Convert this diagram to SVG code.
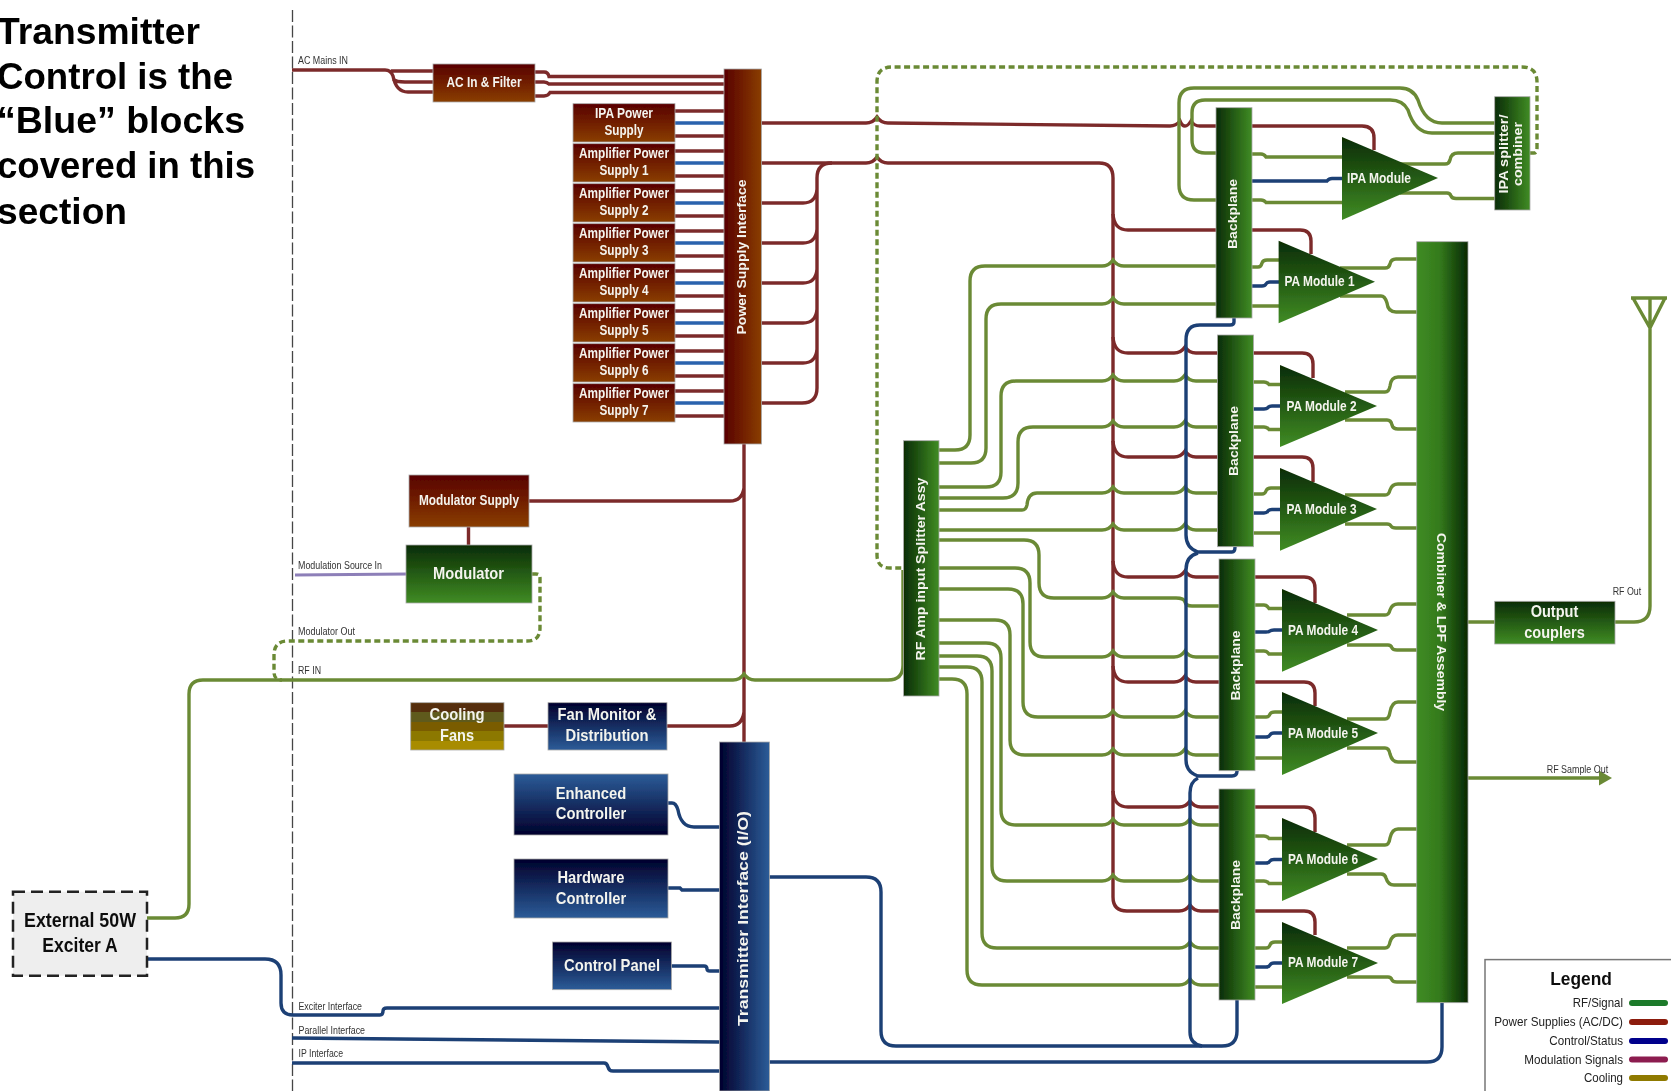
<svg xmlns="http://www.w3.org/2000/svg" width="1671" height="1091" viewBox="0 0 1671 1091">
<style>
text{font-family:"Liberation Sans",Arial,sans-serif;text-anchor:middle;dominant-baseline:central}
.n{fill:#f4f4ee;font-weight:bold;font-size:14px;dominant-baseline:middle;translate:0 1px}
.t{fill:#000;font-weight:bold;font-size:36px;text-anchor:start;dominant-baseline:auto}
.l{fill:#333;font-size:10px;text-anchor:start}
.lg{fill:#222;font-size:13px;text-anchor:end;dominant-baseline:middle;translate:0 1px}
.x{fill:#111;font-weight:bold;font-size:20px}
.w{fill:none;stroke-width:3.400}
.g{stroke:#6b8a35}.r{stroke:#7c2b2b}.b{stroke:#1c3f75}.bb{stroke:#2a62ad}
.d{stroke-dasharray:6 3.500}
.o{stroke:#aaa;stroke-width:.8}
.s{fill:none;stroke-width:6;stroke-linecap:round}
</style>
<defs>
<filter id="soft" filterUnits="userSpaceOnUse" x="0" y="0" width="1671" height="1091"><feGaussianBlur stdDeviation="0.5"/></filter>
<linearGradient id="rv" x1="0" y1="0" x2="0" y2="1"><stop offset="0" stop-color="#580000"/><stop offset="1" stop-color="#8a3e00"/></linearGradient>
<linearGradient id="rh" x1="0" y1="0" x2="1" y2="0"><stop offset="0" stop-color="#580000"/><stop offset="1" stop-color="#8a3e00"/></linearGradient>
<linearGradient id="gv" x1="0" y1="0" x2="0" y2="1"><stop offset="0" stop-color="#0a2c05"/><stop offset="1" stop-color="#408c24"/></linearGradient>
<linearGradient id="gh" x1="0" y1="0" x2="1" y2="0"><stop offset="0" stop-color="#0a2c05"/><stop offset="1" stop-color="#408c24"/></linearGradient>
<linearGradient id="gr" x1="0" y1="0" x2="1" y2="0"><stop offset="0" stop-color="#408c24"/><stop offset=".45" stop-color="#347a1c"/><stop offset="1" stop-color="#062803"/></linearGradient>
<linearGradient id="bv" x1="0" y1="0" x2="0" y2="1"><stop offset="0" stop-color="#00002c"/><stop offset="1" stop-color="#2c5c98"/></linearGradient>
<linearGradient id="bu" x1="0" y1="0" x2="0" y2="1"><stop offset="0" stop-color="#2c5c98"/><stop offset="1" stop-color="#00002c"/></linearGradient>
<linearGradient id="bh" x1="0" y1="0" x2="1" y2="0"><stop offset="0" stop-color="#00002c"/><stop offset="1" stop-color="#2c5c98"/></linearGradient>
<linearGradient id="c" x1="0" y1="0" x2="0" y2="1"><stop offset="0" stop-color="#552f08"/><stop offset=".2" stop-color="#552f08"/><stop offset=".2" stop-color="#5f5a1e"/><stop offset=".4" stop-color="#5f5a1e"/><stop offset=".4" stop-color="#7a5c02"/><stop offset=".6" stop-color="#7a5c02"/><stop offset=".6" stop-color="#8c7800"/><stop offset=".8" stop-color="#8c7800"/><stop offset=".8" stop-color="#a88c00"/><stop offset="1" stop-color="#a88c00"/></linearGradient>
<marker id="ar" markerUnits="userSpaceOnUse" markerWidth="14" markerHeight="16" refX="0" refY="7.500" orient="auto"><path d="M0 0L13 7.500L0 15z" fill="#6b8a35"/></marker>
</defs>
<rect width="1671" height="1091" fill="#fff"/>
<g id="drawing" filter="url(#soft)">
<path d="M292.500 10V1091" fill="none" stroke="#444" stroke-width="1.300" stroke-dasharray="12 3.500"/>
<g id="title">
<text class="t" x="-3" y="44" textLength="203" lengthAdjust="spacingAndGlyphs">Transmitter</text>
<text class="t" x="-3" y="89" textLength="236" lengthAdjust="spacingAndGlyphs">Control is the</text>
<text class="t" x="-3" y="133" textLength="248" lengthAdjust="spacingAndGlyphs">“Blue” blocks</text>
<text class="t" x="-3" y="178" textLength="258" lengthAdjust="spacingAndGlyphs">covered in this</text>
<text class="t" x="-3" y="224" textLength="130" lengthAdjust="spacingAndGlyphs">section</text>
</g>
<g id="connectors">
<path class="w r" d="M292 70H385Q391 70 393 76Q396 92 408 92H433M391 71H433M393 79Q396 82 405 82H433"/>
<path class="w r" d="M535 72H544Q548 72 549 76.500H724M535 82H544Q547 82 549 84H724M535 96H544Q548 96 550 92.500H724"/>
<path class="w r" d="M675 111H724M675 136H724M675 151H724M675 176H724M675 191H724M675 216H724M675 231H724M675 256H724M675 271H724M675 296H724M675 311H724M675 336H724M675 351H724M675 376H724M675 391H724M675 416H724"/>
<path class="w bb" d="M675 123H724M675 163H724M675 203H724M675 243H724M675 283H724M675 323H724M675 363H724M675 403H724"/>
<path class="w r" d="M744 444V743M468.500 527V545M529 501H730Q742 501 744 488M504 726H548M667 726H730Q742 726 744 712"/>
<path class="w r" d="M761 123H866q7 0 11-6q4 6 11 6L1170 126q6 0 10-5q2 5 5 5q3 0 6-5q3 5 9 5H1216M1252 126H1362Q1374 126 1374 138V150"/>
<path class="w r" d="M761 163H866q7 0 11-6q4 6 11 6H1099Q1113 163 1113 178V897Q1113 911 1127 911H1179q7 0 11-6q4 6 11 6H1219"/>
<path class="w r" d="M832 163Q817 163 817 178V388Q817 403 802 403H761M761 203H803Q816 203 817 189M761 243H803Q816 243 817 229M761 283H803Q816 283 817 269M761 323H803Q816 323 817 309M761 363H803Q816 363 817 349"/>
<path class="w r" d="M1113 214Q1114 230 1128 230H1216M1252 230H1300Q1311 230 1311 241V254"/>
<path class="w r" d="M1113 337Q1114 353 1128 353H1174q7 0 11-6q4 6 11 6H1218M1253 353H1302Q1313 353 1313 364V378"/>
<path class="w r" d="M1113 441Q1114 457 1128 457H1174q7 0 11-6q4 6 11 6H1218M1253 457H1302Q1313 457 1313 468V482"/>
<path class="w r" d="M1113 561Q1114 577 1128 577H1174q7 0 11-6q4 6 11 6H1220M1255 577H1304Q1315 577 1315 588V603"/>
<path class="w r" d="M1113 666Q1114 682 1128 682H1174q7 0 11-6q4 6 11 6H1220M1255 682H1304Q1315 682 1315 693V706"/>
<path class="w r" d="M1113 791Q1114 807 1128 807H1179q7 0 11-6q4 6 11 6H1220M1255 807H1304Q1315 807 1315 818V832"/>
<path class="w r" d="M1255 911H1304Q1315 911 1315 922V935"/>
<path class="w g" d="M147 918H175Q189 918 189 904V694Q189 680 203 680H733q7 0 11-6q4 6 11 6H888Q903 680 903 665V570"/>
<path class="w g d" d="M532 574H536Q540 574 540 578V628Q540 641 527 641H288Q274 641 274 655V672Q274 680 282 680"/>
<path class="w g d" d="M1530 153H1534Q1537 153 1537 148V82Q1537 67 1522 67H892Q877 67 877 82V555Q877 568 890 568H904"/>
<path class="w g" d="M939 450H955Q970 450 970 435V281Q970 266 985 266H1102q7 0 11-6q4 6 11 6H1216"/>
<path class="w g" d="M939 463H971Q986 463 986 448V319Q986 304 1001 304H1102q7 0 11-6q4 6 11 6H1216"/>
<path class="w g" d="M939 487H986Q1001 487 1001 472V396Q1001 381 1016 381H1102q7 0 11-6q4 6 11 6H1174q7 0 11-6q4 6 11 6H1218"/>
<path class="w g" d="M939 498H1003Q1018 498 1018 483V442Q1018 427 1033 427H1102q7 0 11-6q4 6 11 6H1174q7 0 11-6q4 6 11 6H1218"/>
<path class="w g" d="M939 510H1022Q1026 510 1027 505Q1028 493 1037 493H1102q7 0 11-6q4 6 11 6H1174q7 0 11-6q4 6 11 6H1219"/>
<path class="w g" d="M939 530H1102q7 0 11-6q4 6 11 6H1174q7 0 11-6q4 6 11 6H1219"/>
<path class="w g" d="M939 540H1024Q1039 540 1039 555V583Q1039 598 1054 598H1102q7 0 11-6q4 6 11 6H1176Q1184 598 1185 602Q1186 606 1192 606H1220"/>
<path class="w g" d="M939 568H1015Q1030 568 1030 583V642Q1030 657 1045 657H1102q7 0 11-6q4 6 11 6H1174q7 0 11-6q4 6 11 6H1220"/>
<path class="w g" d="M939 589H1008Q1023 589 1023 604V702Q1023 717 1038 717H1102q7 0 11-6q4 6 11 6H1174q7 0 11-6q4 6 11 6H1220"/>
<path class="w g" d="M939 620H995Q1010 620 1010 635V740Q1010 755 1025 755H1102q7 0 11-6q4 6 11 6H1174q7 0 11-6q4 6 11 6H1220"/>
<path class="w g" d="M939 643H986Q1001 643 1001 658V810Q1001 825 1016 825H1102q7 0 11-6q4 6 11 6H1179q7 0 11-6q4 6 11 6H1220"/>
<path class="w g" d="M939 656H977Q992 656 992 671V866Q992 881 1007 881H1102q7 0 11-6q4 6 11 6H1179q7 0 11-6q4 6 11 6H1220"/>
<path class="w g" d="M939 667H967Q982 667 982 682V933Q982 948 997 948H1179q7 0 11-6q4 6 11 6H1220"/>
<path class="w g" d="M939 679H952Q967 679 967 694V970Q967 985 982 985H1179q7 0 11-6q4 6 11 6H1220"/>
<path class="w g" d="M1216 200H1194Q1179 200 1179 185V103Q1179 88 1194 88H1400Q1413 88 1418 100Q1425 123 1442 123H1495"/>
<path class="w g" d="M1216 153H1205Q1192 153 1192 140V113Q1192 100 1205 100H1390Q1403 100 1408 110Q1415 133 1432 133H1495"/>
<path class="w g" d="M1252 154H1261Q1264 154 1266 157H1342M1252 200H1261Q1264 200 1266 202.500H1342"/>
<path class="w g" d="M1400 164H1445Q1449 164 1450 160Q1451 153 1458 153H1495M1400 193H1447Q1450 193 1451 196Q1452 198.500 1456 198.500H1495"/>
<path class="w g" d="M1252 267H1258Q1261 267 1262 263Q1263 260 1267 260H1279M1252 306H1279"/>
<path class="w g" d="M1340 268H1385Q1389 268 1390 264Q1391 259 1396 259H1417M1340 296H1381Q1385 296 1387 303Q1388 312 1396 312H1417"/>
<path class="w g" d="M1253 382H1264Q1267 382 1269 384.500H1280M1253 427H1264Q1267 427 1269 429.500H1280"/>
<path class="w g" d="M1345 392H1385Q1389 392 1390 386Q1391 377 1398 377H1417M1345 420H1387Q1391 420 1392 425Q1393 429 1398 429H1417"/>
<path class="w g" d="M1253 494H1262Q1265 494 1266 491Q1267 488 1271 488H1280M1253 533H1280"/>
<path class="w g" d="M1345 495H1385Q1389 495 1390 490Q1392 484 1398 484H1417M1345 524H1387Q1390 524 1391 526Q1392 528 1396 528H1417"/>
<path class="w g" d="M1255 605H1264Q1267 605 1269 608.500H1282M1255 651H1264Q1267 651 1269 654H1282"/>
<path class="w g" d="M1347 615H1385Q1389 615 1390 610Q1392 604 1398 604H1417M1347 645H1388Q1391 645 1392 648Q1393 650 1397 650H1417"/>
<path class="w g" d="M1255 717H1266Q1269 717 1270 714Q1271 712 1275 712H1282M1255 758H1282"/>
<path class="w g" d="M1347 719H1385Q1389 719 1390 712Q1392 702 1398 702H1417M1347 748H1385Q1389 748 1390 754Q1392 762 1398 762H1417"/>
<path class="w g" d="M1255 836H1264Q1267 836 1269 838.500H1282M1255 881H1264Q1267 881 1269 883.500H1282"/>
<path class="w g" d="M1347 845H1385Q1389 845 1390 838Q1392 829 1398 829H1417M1347 874H1381Q1385 874 1386 878Q1388 885 1394 885H1417"/>
<path class="w g" d="M1255 948H1266Q1269 948 1270 945Q1271 942 1275 942H1282M1255 987H1282"/>
<path class="w g" d="M1347 948H1385Q1389 948 1390 942Q1392 935 1398 935H1417M1347 977H1388Q1391 977 1392 980Q1393 982 1397 982H1417"/>
<path class="w g" d="M1468 622H1495M1615 622H1634Q1650 622 1650 606V298M1633 298L1650 328L1665 298M1631 298H1667"/>
<path class="w g" d="M1468 778H1599" marker-end="url(#ar)"/>
<path class="w b" d="M1252 181H1327Q1329 178.500 1332 178.500H1342"/>
<path class="w b" d="M1252 286H1262Q1265 286 1266 284Q1267 282 1270 282H1279"/>
<path class="w b" d="M1253 409H1264Q1267 409 1268 407.500Q1269 406 1272 406H1280"/>
<path class="w b" d="M1253 513H1264Q1267 513 1268 511Q1269 509.500 1272 509.500H1280"/>
<path class="w b" d="M1255 632H1266Q1269 632 1270 631Q1271 630 1274 630H1282"/>
<path class="w b" d="M1255 737H1266Q1269 737 1270 735Q1271 733 1274 733H1282"/>
<path class="w b" d="M1255 863H1266Q1269 863 1270 861Q1271 859.500 1274 859.500H1282"/>
<path class="w b" d="M1255 967H1266Q1269 967 1270 965Q1271 963 1274 963H1282"/>
<path class="w b" d="M147 959H265Q281 959 281 975V1003Q281 1015 293 1015H380Q383 1015 383 1011Q383 1008 387 1008H720"/>
<path class="w b" d="M292 1038L720 1042M292 1063H604Q607 1063 608 1067Q609 1071 613 1071H720"/>
<path class="w b" d="M668 803H672Q676 803 678 810Q681 827 694 827H720M668 888H680L682 890H720M671 966H704Q707 966 707 969Q707 971 710 971H720"/>
<path class="w b" d="M769 877H866Q881 877 881 892V1031Q881 1046 896 1046H1222Q1237 1046 1237 1031V1000"/>
<path class="w b" d="M1234 318V322Q1234 325 1230 325H1200Q1186 325 1186 340V535Q1186 548 1198 552H1232Q1235 552 1235 547"/>
<path class="w b" d="M1198 553Q1186 556 1186 570V760Q1186 772 1198 776H1232Q1237 776 1237 771"/>
<path class="w b" d="M1198 778Q1190 782 1190 793V1032Q1190 1044 1202 1046"/>
<path class="w b" d="M769 1062H1427Q1442 1062 1442 1047V1003"/>
<path d="M295 575L407 574" fill="none" stroke="#8d7fb8" stroke-width="3"/>
</g>
<g id="ac-in-filter"><rect class="o" x="433" y="64" width="102" height="38" fill="url(#rv)"/><text class="n" x="484" y="82.500" textLength="75" lengthAdjust="spacingAndGlyphs">AC In &amp; Filter</text></g>
<g id="ipa-power-supply"><rect class="o" x="573" y="103.700" width="102" height="38.300" fill="url(#rv)"/><text class="n" x="624" y="113.700" textLength="58" lengthAdjust="spacingAndGlyphs">IPA Power</text><text class="n" x="624" y="130.700" textLength="39" lengthAdjust="spacingAndGlyphs">Supply</text></g>
<g id="amp-supply-1"><rect class="o" x="573" y="143.700" width="102" height="38.300" fill="url(#rv)"/><text class="n" x="624" y="153.700" textLength="90" lengthAdjust="spacingAndGlyphs">Amplifier Power</text><text class="n" x="624" y="170.700" textLength="49" lengthAdjust="spacingAndGlyphs">Supply 1</text></g>
<g id="amp-supply-2"><rect class="o" x="573" y="183.700" width="102" height="38.300" fill="url(#rv)"/><text class="n" x="624" y="193.700" textLength="90" lengthAdjust="spacingAndGlyphs">Amplifier Power</text><text class="n" x="624" y="210.700" textLength="49" lengthAdjust="spacingAndGlyphs">Supply 2</text></g>
<g id="amp-supply-3"><rect class="o" x="573" y="223.700" width="102" height="38.300" fill="url(#rv)"/><text class="n" x="624" y="233.700" textLength="90" lengthAdjust="spacingAndGlyphs">Amplifier Power</text><text class="n" x="624" y="250.700" textLength="49" lengthAdjust="spacingAndGlyphs">Supply 3</text></g>
<g id="amp-supply-4"><rect class="o" x="573" y="263.700" width="102" height="38.300" fill="url(#rv)"/><text class="n" x="624" y="273.700" textLength="90" lengthAdjust="spacingAndGlyphs">Amplifier Power</text><text class="n" x="624" y="290.700" textLength="49" lengthAdjust="spacingAndGlyphs">Supply 4</text></g>
<g id="amp-supply-5"><rect class="o" x="573" y="303.700" width="102" height="38.300" fill="url(#rv)"/><text class="n" x="624" y="313.700" textLength="90" lengthAdjust="spacingAndGlyphs">Amplifier Power</text><text class="n" x="624" y="330.700" textLength="49" lengthAdjust="spacingAndGlyphs">Supply 5</text></g>
<g id="amp-supply-6"><rect class="o" x="573" y="343.700" width="102" height="38.300" fill="url(#rv)"/><text class="n" x="624" y="353.700" textLength="90" lengthAdjust="spacingAndGlyphs">Amplifier Power</text><text class="n" x="624" y="370.700" textLength="49" lengthAdjust="spacingAndGlyphs">Supply 6</text></g>
<g id="amp-supply-7"><rect class="o" x="573" y="383.700" width="102" height="38.300" fill="url(#rv)"/><text class="n" x="624" y="393.700" textLength="90" lengthAdjust="spacingAndGlyphs">Amplifier Power</text><text class="n" x="624" y="410.700" textLength="49" lengthAdjust="spacingAndGlyphs">Supply 7</text></g>
<g id="power-supply-interface"><rect class="o" x="724" y="69" width="37.500" height="375" fill="url(#rh)"/><text class="n" transform="translate(742.500 256) rotate(-90)" style="font-size:13px" textLength="155" lengthAdjust="spacingAndGlyphs">Power Supply Interface</text></g>
<g id="modulator-supply"><rect class="o" x="409" y="475" width="120" height="52" fill="url(#rv)"/><text class="n" x="469" y="500.700" textLength="100" lengthAdjust="spacingAndGlyphs">Modulator Supply</text></g>
<g id="modulator"><rect class="o" x="406" y="545" width="126" height="58" fill="url(#gv)"/><text class="n" x="468.500" y="574" style="font-size:17px" textLength="71" lengthAdjust="spacingAndGlyphs">Modulator</text></g>
<g id="cooling-fans"><rect class="o" x="410.700" y="702.700" width="93.300" height="47.300" fill="url(#c)"/><text class="n" x="457" y="715" style="font-size:17px" textLength="55" lengthAdjust="spacingAndGlyphs">Cooling</text><text class="n" x="457" y="736" style="font-size:17px" textLength="34" lengthAdjust="spacingAndGlyphs">Fans</text></g>
<g id="fan-monitor"><rect class="o" x="548" y="702.700" width="119" height="47.300" fill="url(#bv)"/><text class="n" x="607" y="715" style="font-size:17px" textLength="99" lengthAdjust="spacingAndGlyphs">Fan Monitor &amp;</text><text class="n" x="607" y="736" style="font-size:17px" textLength="83" lengthAdjust="spacingAndGlyphs">Distribution</text></g>
<g id="enhanced-controller"><rect class="o" x="514" y="774" width="154" height="61" fill="url(#bu)"/><text class="n" x="591" y="793.300" style="font-size:17px" textLength="70.500" lengthAdjust="spacingAndGlyphs">Enhanced</text><text class="n" x="591" y="814" style="font-size:17px" textLength="70.500" lengthAdjust="spacingAndGlyphs">Controller</text></g>
<g id="hardware-controller"><rect class="o" x="514" y="859" width="154" height="59" fill="url(#bv)"/><text class="n" x="591" y="877.300" style="font-size:17px" textLength="67" lengthAdjust="spacingAndGlyphs">Hardware</text><text class="n" x="591" y="898.300" style="font-size:17px" textLength="70.500" lengthAdjust="spacingAndGlyphs">Controller</text></g>
<g id="control-panel"><rect class="o" x="552.500" y="942" width="119" height="47.700" fill="url(#bv)"/><text class="n" x="612" y="965.500" style="font-size:17px" textLength="96" lengthAdjust="spacingAndGlyphs">Control Panel</text></g>
<g id="transmitter-interface"><rect class="o" x="719.500" y="742" width="50" height="349" fill="url(#bh)"/><text class="n" transform="translate(744.500 917.500) rotate(-90)" style="font-size:15px" textLength="215" lengthAdjust="spacingAndGlyphs">Transmitter Interface (I/O)</text></g>
<g id="exciter"><rect x="13" y="891.700" width="134" height="84" fill="#eee" stroke="#222" stroke-width="2.500" stroke-dasharray="12 6"/><text class="x" x="80" y="920" textLength="112" lengthAdjust="spacingAndGlyphs">External 50W</text><text class="x" x="80" y="945.300" textLength="75.500" lengthAdjust="spacingAndGlyphs">Exciter A</text></g>
<g id="rf-splitter"><rect class="o" x="903.600" y="440.700" width="35.400" height="255.300" fill="url(#gh)"/><text class="n" transform="translate(921.400 568) rotate(-90)" style="font-size:13px" textLength="183" lengthAdjust="spacingAndGlyphs">RF Amp input Splitter Assy</text></g>
<g id="backplane-1"><rect class="o" x="1216" y="107.700" width="36" height="210.300" fill="url(#gh)"/><text class="n" transform="translate(1233.500 213) rotate(-90)" style="font-size:13px" textLength="70" lengthAdjust="spacingAndGlyphs">Backplane</text></g>
<g id="backplane-2"><rect class="o" x="1217.500" y="335" width="36" height="211.700" fill="url(#gh)"/><text class="n" transform="translate(1235 440) rotate(-90)" style="font-size:13px" textLength="70" lengthAdjust="spacingAndGlyphs">Backplane</text></g>
<g id="backplane-3"><rect class="o" x="1219" y="559" width="36" height="211.700" fill="url(#gh)"/><text class="n" transform="translate(1236.500 664.500) rotate(-90)" style="font-size:13px" textLength="70" lengthAdjust="spacingAndGlyphs">Backplane</text></g>
<g id="backplane-4"><rect class="o" x="1219" y="789" width="36" height="211" fill="url(#gh)"/><text class="n" transform="translate(1236.500 894) rotate(-90)" style="font-size:13px" textLength="70" lengthAdjust="spacingAndGlyphs">Backplane</text></g>
<g id="ipa-module"><path d="M1342 137L1438 178L1342 220z" fill="url(#gv)"/><text class="n" x="1379" y="178" textLength="64" lengthAdjust="spacingAndGlyphs">IPA Module</text></g>
<g id="pa-module-1"><path d="M1278.600 240.700L1375 281.700L1278.600 323.300z" fill="url(#gv)"/><text class="n" x="1319.500" y="281.700" textLength="70" lengthAdjust="spacingAndGlyphs">PA Module 1</text></g>
<g id="pa-module-2"><path d="M1280 365L1377 406L1280 447z" fill="url(#gv)"/><text class="n" x="1321.500" y="406" textLength="70" lengthAdjust="spacingAndGlyphs">PA Module 2</text></g>
<g id="pa-module-3"><path d="M1280 468L1377 509L1280 550.700z" fill="url(#gv)"/><text class="n" x="1321.500" y="509" textLength="70" lengthAdjust="spacingAndGlyphs">PA Module 3</text></g>
<g id="pa-module-4"><path d="M1282 589L1378 630L1282 671.700z" fill="url(#gv)"/><text class="n" x="1323" y="630" textLength="70" lengthAdjust="spacingAndGlyphs">PA Module 4</text></g>
<g id="pa-module-5"><path d="M1282 692L1378 733L1282 775z" fill="url(#gv)"/><text class="n" x="1323" y="733" textLength="70" lengthAdjust="spacingAndGlyphs">PA Module 5</text></g>
<g id="pa-module-6"><path d="M1282 818L1378 859L1282 901z" fill="url(#gv)"/><text class="n" x="1323" y="859" textLength="70" lengthAdjust="spacingAndGlyphs">PA Module 6</text></g>
<g id="pa-module-7"><path d="M1282 922L1378 963L1282 1004z" fill="url(#gv)"/><text class="n" x="1323" y="962.700" textLength="70" lengthAdjust="spacingAndGlyphs">PA Module 7</text></g>
<g id="combiner"><rect class="o" x="1416.700" y="241.700" width="51.300" height="761" fill="url(#gr)"/><text class="n" transform="translate(1440 621) rotate(90)" style="font-size:13px" textLength="178" lengthAdjust="spacingAndGlyphs">Combiner &amp; LPF Assembly</text></g>
<g id="ipa-splitter"><rect class="o" x="1494.700" y="96.700" width="35.300" height="113.300" fill="url(#gh)"/><text class="n" transform="translate(1505 153) rotate(-90)" style="font-size:13px" textLength="79" lengthAdjust="spacingAndGlyphs">IPA splitter/</text><text class="n" transform="translate(1519 153) rotate(-90)" style="font-size:13px" textLength="64" lengthAdjust="spacingAndGlyphs">combiner</text></g>
<g id="output-couplers"><rect class="o" x="1494.700" y="601.300" width="120.300" height="42.700" fill="url(#gv)"/><text class="n" x="1554.500" y="612" style="font-size:17px" textLength="47.700" lengthAdjust="spacingAndGlyphs">Output</text><text class="n" x="1554.500" y="633" style="font-size:17px" textLength="60.700" lengthAdjust="spacingAndGlyphs">couplers</text></g>
<g id="labels">
<text class="l" x="298" y="60.700" textLength="50" lengthAdjust="spacingAndGlyphs">AC Mains IN</text>
<text class="l" x="298" y="565.700" textLength="84" lengthAdjust="spacingAndGlyphs">Modulation Source In</text>
<text class="l" x="298" y="631" textLength="57" lengthAdjust="spacingAndGlyphs">Modulator Out</text>
<text class="l" x="298" y="670" textLength="23" lengthAdjust="spacingAndGlyphs">RF IN</text>
<text class="l" x="298.500" y="1006" textLength="63.500" lengthAdjust="spacingAndGlyphs">Exciter Interface</text>
<text class="l" x="298.500" y="1030" textLength="66.500" lengthAdjust="spacingAndGlyphs">Parallel Interface</text>
<text class="l" x="298.500" y="1053.700" textLength="44.500" lengthAdjust="spacingAndGlyphs">IP Interface</text>
<text class="l" x="1612.700" y="591" textLength="28.500" lengthAdjust="spacingAndGlyphs">RF Out</text>
<text class="l" x="1546.700" y="769" textLength="61.500" lengthAdjust="spacingAndGlyphs">RF Sample Out</text>
</g>
<g id="legend">
<rect x="1485" y="959.600" width="220" height="160" fill="#fff" stroke="#777" stroke-width="1.500"/>
<text x="1581" y="979" fill="#111" font-weight="bold" font-size="18" textLength="61.700" lengthAdjust="spacingAndGlyphs">Legend</text>
<text class="lg" x="1623" y="1003" textLength="50.300" lengthAdjust="spacingAndGlyphs">RF/Signal</text>
<text class="lg" x="1623" y="1022" textLength="128.700" lengthAdjust="spacingAndGlyphs">Power Supplies (AC/DC)</text>
<text class="lg" x="1623" y="1041" textLength="73.700" lengthAdjust="spacingAndGlyphs">Control/Status</text>
<text class="lg" x="1623" y="1059.500" textLength="98.700" lengthAdjust="spacingAndGlyphs">Modulation Signals</text>
<text class="lg" x="1623" y="1078" textLength="39" lengthAdjust="spacingAndGlyphs">Cooling</text>
<path class="s" stroke="#1f7a2a" d="M1632 1003H1665"/>
<path class="s" stroke="#8c1e0a" d="M1632 1022H1665"/>
<path class="s" stroke="#00008c" d="M1632 1041H1665"/>
<path class="s" stroke="#8c1e50" d="M1632 1059.500H1665"/>
<path class="s" stroke="#8f7a00" d="M1632 1078H1665"/>
</g>
</g>
</svg>
